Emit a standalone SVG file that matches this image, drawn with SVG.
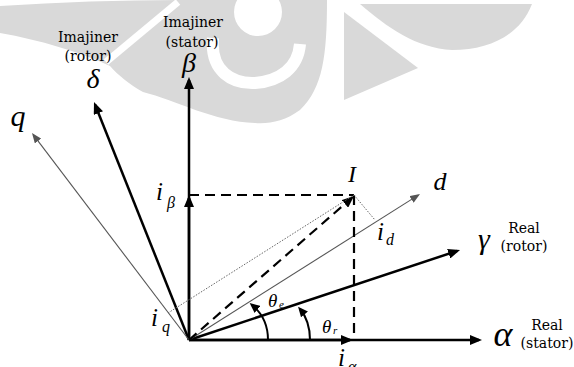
<svg xmlns="http://www.w3.org/2000/svg" width="574" height="367" viewBox="0 0 574 367">
<style>
.wm{fill:#d9d9d9}
.wc{fill:#ffffff}
.ws{stroke:#ffffff;fill:none}
.ax{stroke:#000;stroke-width:2.5;fill:none}
.thin{stroke:#555;stroke-width:1.1;fill:none}
.dash{stroke:#000;stroke-width:2.2;stroke-dasharray:10,6;fill:none}
.dot{stroke:#666;stroke-width:1;stroke-dasharray:1.5,1.5;fill:none}
.arc{stroke:#000;stroke-width:2;fill:none}
.m{font-family:"Liberation Serif","DejaVu Serif",serif;font-style:italic;fill:#000}
.t{font-family:"DejaVu Serif","Liberation Serif",serif;font-size:14px;fill:#000;text-anchor:middle}
</style>
<defs>
<marker id="ah" viewBox="0 0 12 10" refX="9" refY="5" markerWidth="12" markerHeight="10" markerUnits="userSpaceOnUse" orient="auto">
<path d="M0,0 L12,5 L0,10 Z" fill="#000"/>
</marker>
<marker id="ag" viewBox="0 0 10 8" refX="8" refY="4" markerWidth="10" markerHeight="8" markerUnits="userSpaceOnUse" orient="auto">
<path d="M0,0 L10,4 L0,8 Z" fill="#555"/>
</marker>
<marker id="as" viewBox="0 0 10 9" refX="7" refY="4.5" markerWidth="10" markerHeight="9" markerUnits="userSpaceOnUse" orient="auto">
<path d="M0,0 L10,4.5 L0,9 Z" fill="#000"/>
</marker>
</defs>

<g id="watermark">
<path class="wm" d="M0,6 C60,2 120,0 180,0 L327,0 C327,55 323,88 300,110 C285,121 270,124 255,123 C215,122 175,100 143,92 C130,85 118,75 110,66 C80,52 40,40 0,33 Z"/>
<circle class="wc" cx="258" cy="12" r="24"/>
<path class="ws" stroke-width="12" d="M213,38 C210,72 233,84 255,83 C280,81 298,68 300,44"/>
<path class="ws" stroke-width="7" d="M106,62 L178,2"/>
<path class="wm" d="M344,12 L344,100 L418,68 Z"/>
<path class="wm" d="M360,4 L532,4 C520,35 490,50 452,50 C416,48 388,28 360,4 Z"/>
</g>

<g id="connectors">
<line class="ax" x1="189" y1="340" x2="479" y2="340" marker-end="url(#ah)"/>
<line class="ax" x1="189" y1="340" x2="350" y2="340" marker-end="url(#ah)"/>
<line class="ax" x1="189" y1="340" x2="189" y2="80" marker-end="url(#ah)"/>
<line class="ax" x1="189" y1="340" x2="189" y2="198" marker-end="url(#ah)"/>
<line class="ax" x1="189" y1="340" x2="457.2" y2="250.9" marker-end="url(#ah)"/>
<line class="ax" x1="189" y1="340" x2="95.1" y2="104.8" marker-end="url(#ah)"/>
<line class="thin" x1="189" y1="340" x2="33.2" y2="134.6" marker-end="url(#ag)"/>
<line class="thin" x1="189" y1="340" x2="418.3" y2="195.1" marker-end="url(#ag)"/>
<line class="dash" x1="189" y1="340" x2="351.7" y2="198" marker-end="url(#ah)"/>
<line class="dash" x1="189" y1="195" x2="354" y2="195"/>
<line class="dash" x1="354" y1="195" x2="354" y2="340"/>
<line class="dot" x1="168" y1="313" x2="354" y2="195"/>
<line class="dot" x1="354" y1="195" x2="375" y2="220"/>
<path class="arc" d="M268,340 Q268,318 252,305" marker-end="url(#as)"/>
<path class="arc" d="M310,340 Q310,321 300,309" marker-end="url(#as)"/>
</g>

<g id="axis-alpha">
<text class="m" x="503" y="346" font-size="36" text-anchor="middle">α</text>
<text class="t" x="547" y="330">Real</text>
<text class="t" x="547" y="348">(stator)</text>
</g>
<g id="axis-beta">
<text class="m" x="189" y="72" font-size="28" text-anchor="middle">β</text>
<text class="t" x="193" y="27">Imajiner</text>
<text class="t" x="192" y="47">(stator)</text>
</g>
<g id="axis-gamma">
<text class="m" x="484" y="249" font-size="30" text-anchor="middle">γ</text>
<text class="t" x="524" y="233">Real</text>
<text class="t" x="524" y="251">(rotor)</text>
</g>
<g id="axis-delta">
<text class="m" x="93" y="88" font-size="28" text-anchor="middle">δ</text>
<text class="t" x="88" y="42">Imajiner</text>
<text class="t" x="88" y="61">(rotor)</text>
</g>
<g id="axis-q">
<text class="m" x="18" y="126" font-size="30" text-anchor="middle">q</text>
</g>
<g id="axis-d">
<text class="m" x="440" y="190" font-size="26" text-anchor="middle">d</text>
</g>
<g id="vector-I">
<text class="m" x="352" y="182" font-size="24" text-anchor="middle">I</text>
</g>
<g id="i-beta">
<text class="m" x="156" y="200" font-size="25">i</text>
<text class="m" x="167" y="208" font-size="16">β</text>
</g>
<g id="i-d">
<text class="m" x="377" y="240" font-size="25">i</text>
<text class="m" x="386" y="245" font-size="16">d</text>
</g>
<g id="i-q">
<text class="m" x="151" y="326" font-size="25">i</text>
<text class="m" x="162" y="332" font-size="16">q</text>
</g>
<g id="i-alpha">
<text class="m" x="338" y="366" font-size="25">i</text>
<text class="m" x="348" y="372" font-size="16">α</text>
</g>
<g id="theta-e">
<text class="m" x="268" y="307" font-size="19">θ</text>
<text class="m" x="279" y="308" font-size="11">e</text>
</g>
<g id="theta-r">
<text class="m" x="322" y="333" font-size="19">θ</text>
<text class="m" x="333" y="334" font-size="11">r</text>
</g>
</svg>
